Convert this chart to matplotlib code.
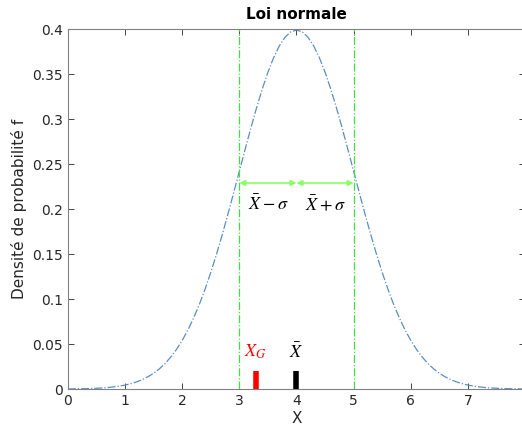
import numpy as np
import matplotlib.pyplot as plt

plt.rcParams['mathtext.fontset'] = 'stix'

# density, every 0.1 from 0 to 8
x_vals = [round(0.1 * i, 1) for i in range(81)]
f_vals = [0.0001, 0.0002, 0.0003, 0.0004, 0.0006, 0.0009, 0.0012, 0.0017, 0.0024, 0.0033,
          0.0044, 0.0060, 0.0079, 0.0104, 0.0136, 0.0175, 0.0224, 0.0283, 0.0355, 0.0440,
          0.0540, 0.0656, 0.0790, 0.0940, 0.1109, 0.1295, 0.1497, 0.1714, 0.1942, 0.2179,
          0.2420, 0.2661, 0.2897, 0.3123, 0.3332, 0.3521, 0.3683, 0.3814, 0.3910, 0.3970,
          0.3989,
          0.3970, 0.3910, 0.3814, 0.3683, 0.3521, 0.3332, 0.3123, 0.2897, 0.2661, 0.2420,
          0.2179, 0.1942, 0.1714, 0.1497, 0.1295, 0.1109, 0.0940, 0.0790, 0.0656, 0.0540,
          0.0440, 0.0355, 0.0283, 0.0224, 0.0175, 0.0136, 0.0104, 0.0079, 0.0060, 0.0044,
          0.0033, 0.0024, 0.0017, 0.0012, 0.0009, 0.0006, 0.0004, 0.0003, 0.0002, 0.0001]

mean_x = 4.0
sigma_lines = [3.0, 5.0]
arrow_y = 0.229
xg = 3.3
bar_h = 0.02

fig = plt.figure(figsize=(5.22, 4.28), dpi=100)
ax = fig.add_axes([0.130, 0.091, 0.876, 0.841])

ax.plot(x_vals, f_vals, linestyle='-.', color='#5a8fc2', linewidth=0.9)

for s in sigma_lines:
    ax.axvline(s, linestyle='-.', color='#44dd44', linewidth=0.9)

# arrows +/- sigma
arrow_kw = dict(arrowstyle='<|-|>', color='#88ff66', lw=1.2, mutation_scale=8, shrinkA=0, shrinkB=0)
ax.annotate('', xy=(sigma_lines[0], arrow_y), xytext=(mean_x, arrow_y), arrowprops=arrow_kw)
ax.annotate('', xy=(mean_x, arrow_y), xytext=(sigma_lines[1], arrow_y), arrowprops=arrow_kw)
ax.text(3.5, 0.205, r'$\bar{X}-\sigma$', ha='center', va='center', fontsize=13)
ax.text(4.5, 0.205, r'$\bar{X}+\sigma$', ha='center', va='center', fontsize=13)

# markers for X_G and mean
ax.plot([xg, xg], [0, bar_h], color='red', linewidth=4, solid_capstyle='butt')
ax.plot([mean_x, mean_x], [0, bar_h], color='black', linewidth=4, solid_capstyle='butt')
ax.text(xg - 0.02, 0.041, r'$X_G$', color='red', ha='center', va='center', fontsize=13)
ax.text(mean_x, 0.041, r'$\bar{X}$', color='black', ha='center', va='center', fontsize=13)

ax.set_xlim(0, 8)
ax.set_ylim(0, 0.4)
ax.set_xticks(range(0, 9))
ax.set_yticks([0, 0.05, 0.1, 0.15, 0.2, 0.25, 0.3, 0.35, 0.4])
ax.set_yticklabels(['0', '0.05', '0.1', '0.15', '0.2', '0.25', '0.3', '0.35', '0.4'])
ax.tick_params(direction='in', top=True, right=True, length=4, width=0.6,
               colors='#262626', labelsize=10, labelcolor='#262626')
for sp in ax.spines.values():
    sp.set_color('#808080')
    sp.set_linewidth(0.8)

ax.set_xlabel('X', fontsize=11, color='#262626', labelpad=2)
ax.set_ylabel('Densité de probabilité f', fontsize=11, color='#262626')
ax.set_title('Loi normale', fontsize=11, fontweight='bold', pad=7)

fig.savefig('out.png', dpi=100)
